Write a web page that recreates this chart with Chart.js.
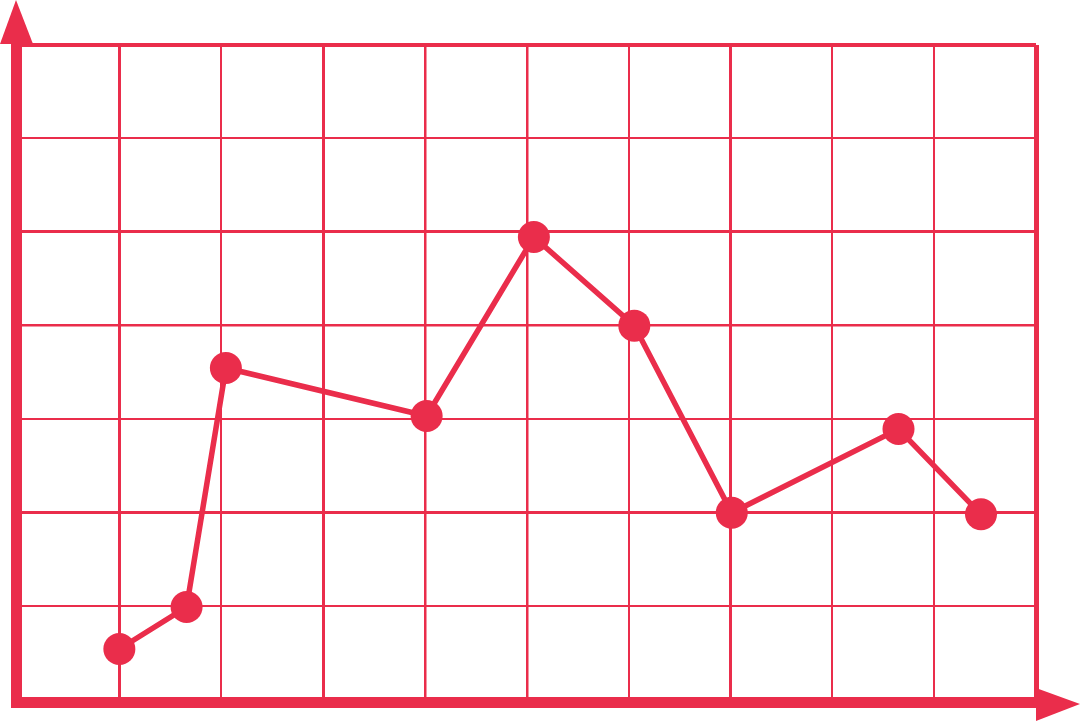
<!DOCTYPE html>
<html>
<head>
<meta charset="utf-8">
<script src="https://cdn.jsdelivr.net/npm/chart.js@4/dist/chart.umd.min.js"></script>
<style>
  html, body { margin: 0; padding: 0; background: #ffffff; }
  #wrap { width: 1080px; height: 721px; }
</style>
</head>
<body>
<div id="wrap"><canvas id="lineChart" width="1080" height="721"></canvas></div>
<script>
// values
const xValues = [1.0, 1.66, 2.046, 4.017, 5.07, 6.056, 7.013, 8.65, 9.46];
const yValues = [0.535, 0.985, 3.543, 3.029, 4.945, 3.996, 1.994, 2.89, 1.977];
const xMax = 10;
const yMax = 7;

const red = "#EA2D4B";

// thicker grid lines where the drawing has them
const xLineWidths = { 1: 3, 2: 2, 3: 3, 4: 2.5, 5: 2.5, 6: 2, 7: 3, 8: 2, 9: 2, 10: 5 };
const yLineWidths = { 1: 2, 2: 3, 3: 2, 4: 2.5, 5: 3, 6: 2, 7: 4 };

const points = xValues.map((x, i) => ({ x: x, y: yValues[i] }));

// arrow axes drawn on top of the chart area
const arrowAxes = {
    id: "arrowAxes",
    afterDraw(chart) {
        const { ctx, chartArea } = chart;
        const left = chartArea.left - 1;
        const bottom = chartArea.bottom + 3;
        ctx.save();
        ctx.fillStyle = red;
        // y axis bar + arrow
        ctx.fillRect(left - 5.5, chartArea.top - 1, 11, bottom + 5.5 - chartArea.top);
        ctx.beginPath();
        ctx.moveTo(left - 16.5, chartArea.top - 1);
        ctx.lineTo(left + 16.5, chartArea.top - 1);
        ctx.lineTo(left - 0.5, 0);
        ctx.closePath();
        ctx.fill();
        // x axis bar + arrow
        ctx.fillRect(left - 5.5, bottom - 5, chartArea.right - left + 5.5, 11);
        ctx.beginPath();
        ctx.moveTo(chartArea.right, bottom - 14);
        ctx.lineTo(chartArea.right, bottom + 19);
        ctx.lineTo(chart.width, bottom + 2);
        ctx.closePath();
        ctx.fill();
        ctx.restore();
    }
};

new Chart(document.getElementById("lineChart"), {
    type: "scatter",
    data: {
        datasets: [{
            data: points,
            showLine: true,
            borderColor: red,
            borderWidth: 5.5,
            backgroundColor: red,
            pointRadius: 16,
            pointHoverRadius: 16,
            pointBorderWidth: 0,
            tension: 0
        }]
    },
    options: {
        responsive: false,
        animation: false,
        layout: {
            autoPadding: false,
            padding: { left: 17.5, top: 45, right: 44, bottom: 22 }
        },
        plugins: {
            legend: { display: false },
            tooltip: { enabled: false }
        },
        scales: {
            x: {
                type: "linear",
                min: 0,
                max: xMax,
                ticks: { display: false, stepSize: 1 },
                border: { display: false },
                grid: {
                    drawTicks: false,
                    color: red,
                    lineWidth: c => c.tick ? (xLineWidths[c.tick.value] || 0) : 0
                }
            },
            y: {
                min: 0,
                max: yMax,
                ticks: { display: false, stepSize: 1 },
                border: { display: false },
                grid: {
                    drawTicks: false,
                    color: red,
                    lineWidth: c => c.tick ? (yLineWidths[c.tick.value] || 0) : 0
                }
            }
        }
    },
    plugins: [arrowAxes]
});
</script>
</body>
</html>
